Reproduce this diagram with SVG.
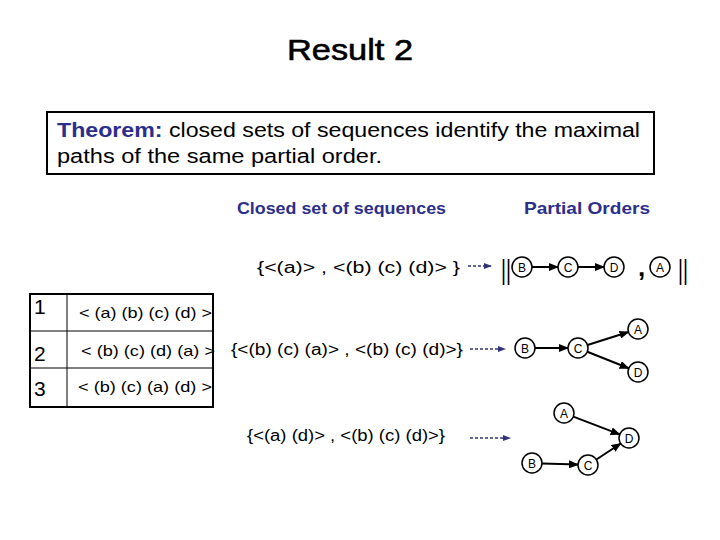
<svg xmlns="http://www.w3.org/2000/svg" width="720" height="540" viewBox="0 0 720 540">
<style>
.t{font-family:"Liberation Sans",Arial,sans-serif;fill:#000}
.blue{font-family:"Liberation Sans",Arial,sans-serif;fill:#2b2f8c;font-weight:bold}
.node circle{fill:#fff;stroke:#000;stroke-width:1.5}
.node text{font-family:"Liberation Sans",Arial,sans-serif;font-size:12px;text-anchor:middle;fill:#000}
.edge{stroke:#000;stroke-width:2;fill:none}
.dash{stroke:#33337a;stroke-width:1.5;stroke-dasharray:3,2;fill:none}
.bar{font-family:"Liberation Sans",Arial,sans-serif;font-size:28px;fill:#000}
</style>
<defs>
<marker id="ah" markerUnits="userSpaceOnUse" markerWidth="10" markerHeight="8" refX="9" refY="4" orient="auto"><path d="M0,0 L10,4 L0,8 z" fill="#000"/></marker>
<marker id="dh" markerUnits="userSpaceOnUse" markerWidth="8" markerHeight="6" refX="7" refY="3" orient="auto"><path d="M0,0 L8,3 L0,6 z" fill="#33337a"/></marker>
</defs>
<rect width="720" height="540" fill="#fff"/>
<text class="t" x="287" y="60" font-size="30" stroke="#000" stroke-width="0.6" textLength="126" lengthAdjust="spacingAndGlyphs">Result 2</text>
<g id="theorem">
<rect x="47" y="112" width="607" height="62" fill="#fff" stroke="#000" stroke-width="2"/>
<text class="t" x="57" y="137" font-size="20" textLength="583" lengthAdjust="spacingAndGlyphs"><tspan fill="#2b2f8c" font-weight="bold">Theorem:</tspan> closed sets of sequences identify the maximal</text>
<text class="t" x="57" y="163" font-size="20" textLength="325" lengthAdjust="spacingAndGlyphs">paths of the same partial order.</text>
</g>
<text class="blue" x="237" y="214" font-size="17" textLength="209" lengthAdjust="spacingAndGlyphs">Closed set of sequences</text>
<text class="blue" x="524" y="214" font-size="17" textLength="126" lengthAdjust="spacingAndGlyphs">Partial Orders</text>
<g id="table">
<rect x="30" y="294" width="183" height="113" fill="#fff" stroke="#000" stroke-width="2"/>
<line x1="67" y1="294" x2="67" y2="407" stroke="#000" stroke-width="1"/>
<line x1="30" y1="331" x2="213" y2="331" stroke="#000" stroke-width="1"/>
<line x1="30" y1="368" x2="213" y2="368" stroke="#000" stroke-width="1"/>
<text class="t" x="34" y="314" font-size="21">1</text>
<text class="t" x="34" y="361" font-size="21">2</text>
<text class="t" x="34" y="396" font-size="21">3</text>
<text class="t" x="79" y="318" font-size="15" textLength="133" lengthAdjust="spacingAndGlyphs">&lt; (a) (b) (c) (d) &gt;</text>
<text class="t" x="81" y="356" font-size="15" textLength="134" lengthAdjust="spacingAndGlyphs">&lt; (b) (c) (d) (a) &gt;</text>
<text class="t" x="78" y="392" font-size="15" textLength="134" lengthAdjust="spacingAndGlyphs">&lt; (b) (c) (a) (d) &gt;</text>
</g>
<g id="sets">
<text class="t" x="257" y="273" font-size="16" textLength="203" lengthAdjust="spacingAndGlyphs">{&lt;(a)&gt; , &lt;(b) (c) (d)&gt; }</text>
<text class="t" x="231" y="355" font-size="16" textLength="232" lengthAdjust="spacingAndGlyphs">{&lt;(b) (c) (a)&gt; , &lt;(b) (c) (d)&gt;}</text>
<text class="t" x="247" y="441" font-size="16" textLength="198" lengthAdjust="spacingAndGlyphs">{&lt;(a) (d)&gt; , &lt;(b) (c) (d)&gt;}</text>
</g>
<g id="connectors">
<line class="dash" x1="468" y1="266" x2="491" y2="266" marker-end="url(#dh)"/>
<line class="dash" x1="470" y1="349" x2="505" y2="349" marker-end="url(#dh)"/>
<line class="dash" x1="470" y1="438" x2="510" y2="438" marker-end="url(#dh)"/>
<line class="edge" x1="532" y1="267" x2="558" y2="267" marker-end="url(#ah)"/>
<line class="edge" x1="578" y1="267" x2="604" y2="267" marker-end="url(#ah)"/>
<line class="edge" x1="535" y1="348" x2="568" y2="348" marker-end="url(#ah)"/>
<line class="edge" x1="587.5" y1="345" x2="628.5" y2="332" marker-end="url(#ah)"/>
<line class="edge" x1="587.3" y1="351.7" x2="628.7" y2="368.3" marker-end="url(#ah)"/>
<line class="edge" x1="573.3" y1="416.6" x2="619.7" y2="434.4" marker-end="url(#ah)"/>
<line class="edge" x1="542" y1="463.4" x2="578" y2="464.6" marker-end="url(#ah)"/>
<line class="edge" x1="596.4" y1="459.5" x2="620.7" y2="443.5" marker-end="url(#ah)"/>
</g>
<text class="bar" x="501" y="279" textLength="10" lengthAdjust="spacingAndGlyphs">||</text>
<text class="bar" x="678" y="279" textLength="10" lengthAdjust="spacingAndGlyphs">||</text>
<text x="638" y="276" font-family="Liberation Sans,Arial,sans-serif" font-size="26" font-weight="bold">,</text>
<g id="p1B" class="node"><circle cx="522" cy="267" r="10"/><text x="522" y="271.5">B</text></g>
<g id="p1C" class="node"><circle cx="568" cy="267" r="10"/><text x="568" y="271.5">C</text></g>
<g id="p1D" class="node"><circle cx="614" cy="267" r="10"/><text x="614" y="271.5">D</text></g>
<g id="p1A" class="node"><circle cx="660" cy="267" r="10"/><text x="660" y="271.5">A</text></g>
<g id="p2B" class="node"><circle cx="525" cy="348" r="10"/><text x="525" y="352.5">B</text></g>
<g id="p2C" class="node"><circle cx="578" cy="348" r="10"/><text x="578" y="352.5">C</text></g>
<g id="p2A" class="node"><circle cx="638" cy="329" r="10"/><text x="638" y="333.5">A</text></g>
<g id="p2D" class="node"><circle cx="638" cy="372" r="10"/><text x="638" y="376.5">D</text></g>
<g id="p3A" class="node"><circle cx="564" cy="413" r="10"/><text x="564" y="417.5">A</text></g>
<g id="p3D" class="node"><circle cx="629" cy="438" r="10"/><text x="629" y="442.5">D</text></g>
<g id="p3B" class="node"><circle cx="532" cy="463" r="10"/><text x="532" y="467.5">B</text></g>
<g id="p3C" class="node"><circle cx="588" cy="465" r="10"/><text x="588" y="469.5">C</text></g>
</svg>
